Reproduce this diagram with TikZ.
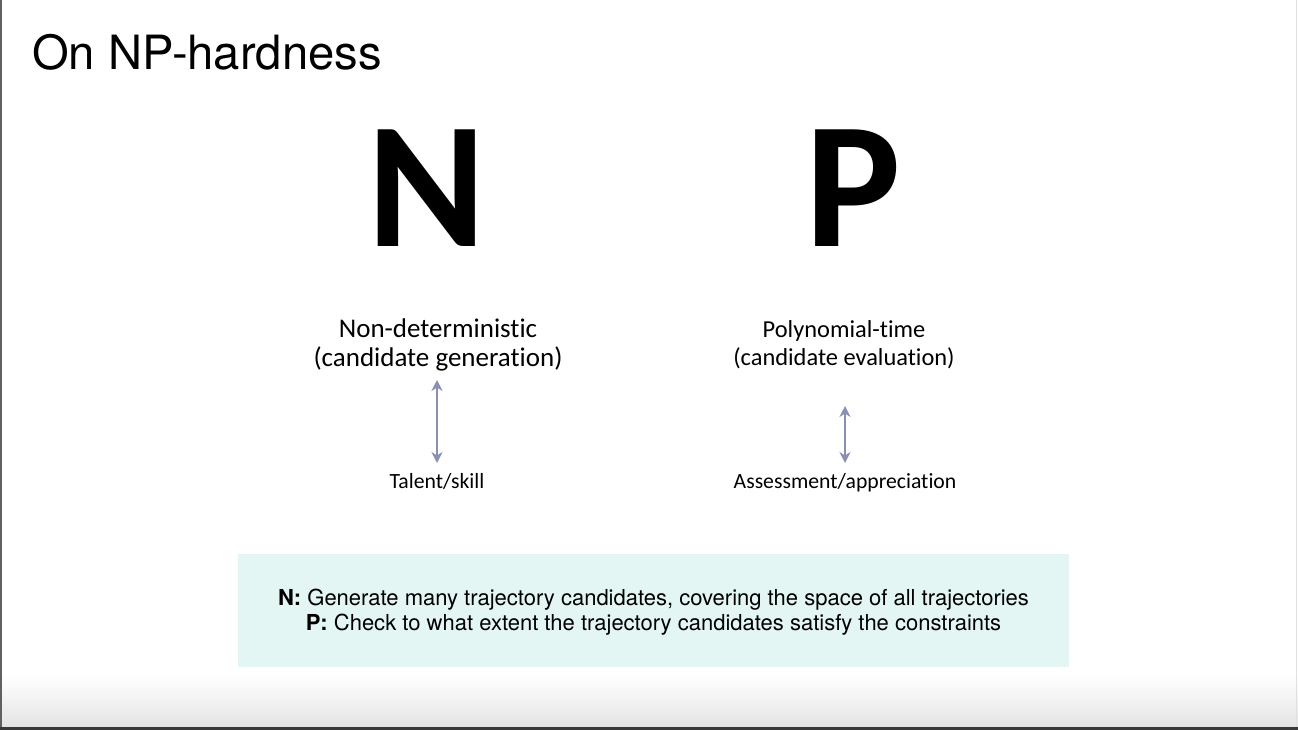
\documentclass[tikz,border=0pt]{standalone}
\usepackage{fontspec}
\setmainfont[Ligatures=NoCommon]{Carlito}
\newfontfamily\headfont{TeX Gyre Heros}
\usetikzlibrary{arrows.meta}
\definecolor{arrowgray}{HTML}{8A90B4}
\definecolor{boxfill}{HTML}{E4F6F3}
\definecolor{edgegray}{HTML}{3A3A3A}
\definecolor{floorgray}{HTML}{E4E4E4}
\tikzset{
  lbl/.style={inner sep=0pt, anchor=base},
  bigletter/.style={lbl, font=\fontsize{180}{180}\selectfont\bfseries},
  leftlbl/.style={lbl, font=\fontsize{27}{30}\selectfont},
  rightlbl/.style={lbl, font=\fontsize{24.4}{28}\selectfont},
  sublbl/.style={lbl, font=\fontsize{21.7}{24}\selectfont},
  link/.style={draw=arrowgray, line width=1.5pt,
    {Stealth[length=11pt,width=11pt,inset=3.5pt]}-{Stealth[length=11pt,width=11pt,inset=3.5pt]}},
  summary/.style={fill=boxfill, inner sep=0pt, minimum width=831pt,
    minimum height=113pt},
  summarytext/.style={inner sep=0pt, align=center,
    font=\headfont\fontsize{22}{25}\selectfont}
}
\begin{document}
\begin{tikzpicture}[x=1pt,y=-1pt]
  % page
  \fill[white] (0,0) rectangle (1298,730);
  \useasboundingbox (0,0) rectangle (1298,730);
  \shade[top color=white, bottom color=floorgray] (0,675) rectangle (1298,727);
  \fill[edgegray] (0,727) rectangle (1298,730);
  \fill[edgegray!80] (0,0) rectangle (1.5,727);
  \fill[black!12] (1296,0) rectangle (1297,727);

  % title
  \node[lbl, anchor=base west, font=\headfont\fontsize{47.2}{50}\selectfont] (title) at (32,70) {On NP-hardness};

  % the two letters
  \node[bigletter] (N) at (427,246) {N};
  \node[bigletter] (P) at (853,246) {P};

  % left column
  \node[leftlbl] (nd)  at (438,337) {Non-deterministic};
  \node[leftlbl] (gen) at (438,366) {(candidate generation)};
  \node[sublbl] (talent) at (437,488) {Talent/skill};

  % right column
  \node[rightlbl] (poly) at (844,337) {Polynomial-time};
  \node[rightlbl] (eval) at (844,365) {(candidate evaluation)};
  \node[sublbl] (assess) at (845,488) {Assessment/appreciation};

  % arrows
  \coordinate (la) at (437,380);
  \coordinate (lb) at (437,463);
  \coordinate (ra) at (845,406);
  \coordinate (rb) at (845,463);
  \draw[link] (la) -- (lb);
  \draw[link] (ra) -- (rb);

  % summary box
  \node[summary] (sum) at (653.5,610.5) {};
  \node[summarytext] (sumtext) at (653.5,612.5) {%
    \textbf{N:} Generate many trajectory candidates, covering the space of all trajectories\\
    \textbf{P:} Check to what extent the trajectory candidates satisfy the constraints};
\end{tikzpicture}
\end{document}
